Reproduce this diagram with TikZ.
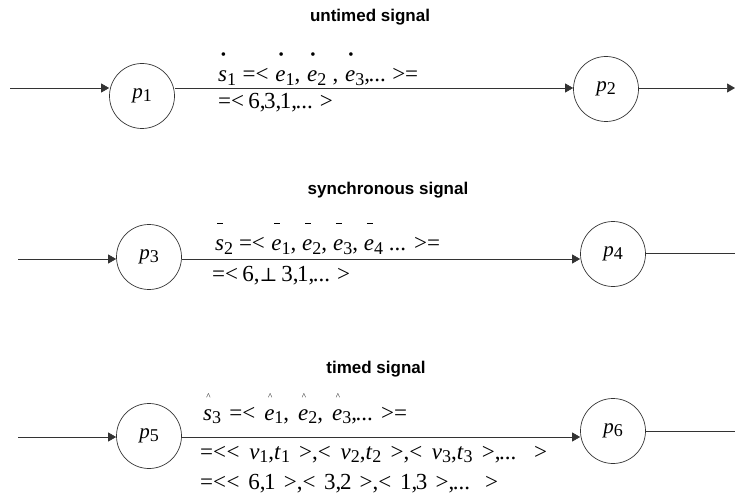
\documentclass[tikz,border=0pt]{standalone}
\usepackage{fontspec}
\setmainfont{Liberation Serif}
\newfontfamily\titlefont{Liberation Sans}
\newfontfamily\symfont{DejaVu Serif}
\usetikzlibrary{arrows.meta}
\newcommand\ac[2]{\leavevmode\setbox0\hbox{#2}\rlap{\hbox to \wd0{\hss\kern1.5pt #1\hss}}\box0}
\newcommand\dotm{\raisebox{22pt}{\fontsize{15}{15}\selectfont\textbullet}}
\newcommand\barm{\raisebox{27pt}{\rule{6pt}{1.2pt}}}
\newcommand\hatm{\raisebox{21pt}{\fontsize{9}{9}\selectfont\textasciicircum}}
\newcommand\sbx[1]{\raisebox{-0.3ex}{\fontsize{18}{18}\selectfont #1}}
\newcommand\iv[1]{\textit{#1}}
\newcommand\pl[1]{\iv{p}\sbx{#1}}
\newcommand\lt{<\kern0.5pt}
\newcommand\cm{,\kern-1.5pt}
\tikzset{
  place/.style={draw=black!80, circle, minimum size=65pt, inner sep=0pt, line width=0.7pt, font=\fontsize{21}{21}\selectfont},
  arr/.style={draw=black!80, line width=0.7pt, -{Triangle[length=8pt,width=9pt]}},
  ln/.style={draw=black!80, line width=0.7pt},
  ttl/.style={font=\titlefont\bfseries\fontsize{17}{17}\selectfont, anchor=center},
  eq/.style={font=\fontsize{23}{23}\selectfont, anchor=base west, inner sep=0pt}
}
\begin{document}
\begin{tikzpicture}[x=1pt,y=-1pt]
\useasboundingbox (0,0) rectangle (737,500);
% row 1
\node[ttl] (t1) at (370,17) {untimed signal};
\node[place] (p1) at (142,96) {\pl{1}};
\node[place] (p2) at (606,89) {\pl{2}};
\coordinate (a1) at (10,88);
\coordinate (b1) at (735,88);
\draw[arr] (a1) -- (a1 -| p1.west);
\draw[arr] (p1.east |- a1) -- (p2.west |- a1);
\draw[arr] (p2.east |- b1) -- (b1);
\node[eq] (s1) at (218,82) {\makebox[200pt][s]{\ac{\dotm}{\iv{s}}\sbx{1} =\lt{} \ac{\dotm}{\iv{e}}\sbx{1}, \ac{\dotm}{\iv{e}}\sbx{2} , \ac{\dotm}{\iv{e}}\sbx{3}\cm...\ >=}};
\node[eq] (v1) at (218,109) {\makebox[114pt][s]{=\lt{} 6\cm3\cm1\cm... >}};
% row 2
\node[ttl] (t2) at (388,190) {synchronous signal};
\node[place] (p3) at (149,257) {\pl{3}};
\node[place] (p4) at (613,254) {\pl{4}};
\coordinate (a2) at (18,259);
\coordinate (b2) at (735,253);
\draw[arr] (a2) -- (a2 -| p3.west);
\draw[arr] (p3.east |- a2) -- (p4.west |- a2);
\draw[ln] (p4.east |- b2) -- (b2);
\node[eq] (s2) at (215,251) {\makebox[225pt][s]{\ac{\barm}{\iv{s}}\sbx{2} =\lt{} \ac{\barm}{\iv{e}}\sbx{1}, \ac{\barm}{\iv{e}}\sbx{2}, \ac{\barm}{\iv{e}}\sbx{3}, \ac{\barm}{\iv{e}}\sbx{4} ... >=}};
\node[eq] (v2) at (212,281) {\makebox[133pt][s]{=\lt{} 6,{\symfont\fontsize{19}{19}\selectfont ⊥} 3\cm1\cm... >}};
% row 3
\node[ttl] (t3) at (376,369) {timed signal};
\node[place] (p5) at (149,436) {\pl{5}};
\node[place] (p6) at (613,431) {\pl{6}};
\coordinate (a3) at (18,437);
\coordinate (b3) at (735,431);
\draw[arr] (a3) -- (a3 -| p5.west);
\draw[arr] (p5.east |- a3) -- (p6.west |- a3);
\draw[ln] (p6.east |- b3) -- (b3);
\node[eq] (s3) at (203,420) {\makebox[204pt][s]{\ac{\hatm}{\iv{s}}\sbx{3} =\lt{} \ac{\hatm}{\iv{e}}\sbx{1}, \ac{\hatm}{\iv{e}}\sbx{2}, \ac{\hatm}{\iv{e}}\sbx{3}\cm...\ >=}};
\node[eq] (v3) at (200,459) {\makebox[347pt][s]{=\lt\lt{} \iv{v}\sbx{1},\iv{t}\sbx{1} >,\lt{} \iv{v}\sbx{2},\iv{t}\sbx{2} >,\lt{} \iv{v}\sbx{3},\iv{t}\sbx{3} >\cm... >}};
\node[eq] (n3) at (200,489) {\makebox[298pt][s]{=\lt\lt{} 6\cm1 >,\lt{} 3\cm2 >,\lt{} 1\cm3 >\cm... >}};
\end{tikzpicture}
\end{document}
